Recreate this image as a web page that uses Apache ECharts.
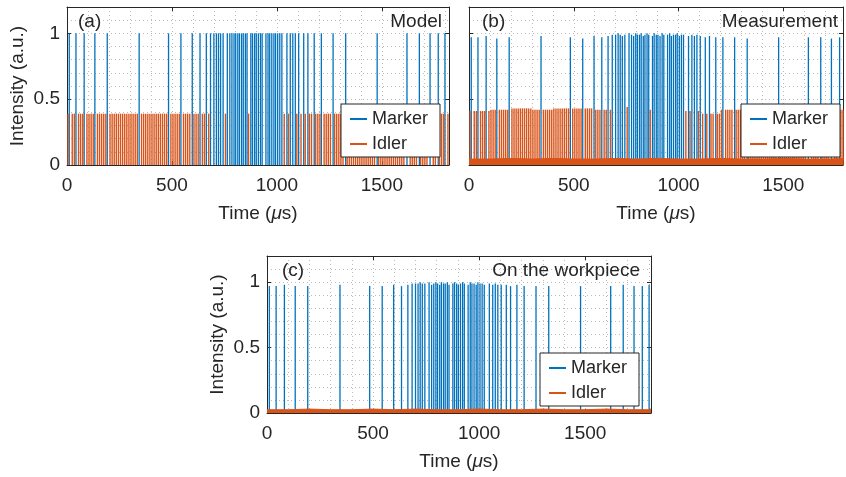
<!DOCTYPE html>
<html lang="en">
<head>
<meta charset="UTF-8">
<title>Marker / Idler pulse trains</title>
<script src="https://cdn.jsdelivr.net/npm/echarts@6/dist/echarts.min.js"></script>
<style>
    html, body { margin: 0; padding: 0; background: #fff; }
    #main { width: 846px; height: 477px; }
</style>
</head>
<body>
<div id="main"></div>
<script>
    // marker pulse times (µs), same pattern in the three panels
    var markerTimes = [11, 43, 82, 133, 192, 344, 484, 543, 597, 634, 664, 684,
        700, 712, 722, 732, 744, 764, 776, 786, 796, 804,
        814, 822, 832, 840, 850, 858, 876, 884, 894, 902, 912, 922, 930,
        948, 958, 966, 976, 986, 994, 1004, 1014, 1024,
        1048, 1064, 1076, 1088, 1104, 1128, 1148, 1178, 1212, 1268, 1328, 1478,
        1620, 1679, 1730, 1769, 1801];
    var markerHeightA = 1;
    var markerHeightB = [0.97, 0.97, 0.98, 0.96, 0.97, 0.98, 0.97, 0.96, 0.98, 0.97, 0.98, 0.99,
        0.99, 1.0, 0.99, 0.98, 0.99, 1.0, 0.99, 0.98, 1.0, 0.99,
        0.99, 1.0, 0.98, 0.99, 1.0, 0.99, 0.98, 1.0, 0.99, 0.99, 0.98, 1.0, 0.99,
        0.99, 1.0, 0.98, 0.99, 0.99, 1.0, 0.98, 0.99, 0.99,
        0.98, 0.99, 0.98, 0.99, 0.98, 0.97, 0.98, 0.97, 0.97, 0.97, 0.96, 0.97,
        0.97, 0.97, 0.96, 0.97, 0.97];
    var markerHeightC = [0.97, 0.97, 0.98, 0.97, 0.97, 0.98, 0.97, 0.97, 0.98, 0.97, 0.98, 0.99,
        0.99, 0.99, 1.0, 0.99, 0.99, 1.0, 0.98, 0.99, 1.0, 0.99,
        0.98, 1.0, 0.99, 0.99, 1.0, 0.98, 0.99, 1.0, 0.99, 0.98, 0.99, 1.0, 0.99,
        0.98, 1.0, 0.99, 0.99, 0.98, 1.0, 0.99, 0.99, 0.98,
        0.99, 0.98, 0.99, 0.98, 0.98, 0.98, 0.97, 0.98, 0.97, 0.97, 0.97, 0.97,
        0.97, 0.98, 0.97, 0.97, 0.98];

    // idler: one pulse every 10 µs, left out where a marker pulse goes
    var idlerStart = 5;
    var idlerPeriod = 10;
    var idlerLevelA = 0.39;
    // measured idler peak, read per 100 µs block
    var idlerLevelB = [0.41, 0.42, 0.43, 0.42, 0.43, 0.43, 0.42, 0.44, 0.42, 0.41,
        0.41, 0.39, 0.42, 0.42, 0.41, 0.42, 0.41, 0.42, 0.42];
    // idler noise floor, per 100 µs block
    var floorB = [0.045, 0.05, 0.045, 0.05, 0.045, 0.045, 0.05, 0.045, 0.05, 0.045,
        0.045, 0.05, 0.045, 0.045, 0.05, 0.045, 0.045, 0.05, 0.045];
    var floorC = [0.025, 0.03, 0.025, 0.025, 0.03, 0.025, 0.03, 0.025, 0.025, 0.03,
        0.025, 0.025, 0.03, 0.025, 0.025, 0.03, 0.025, 0.025, 0.03];

    var xMax = [1820, 1785, 1810];
    var xTicks = [0, 500, 1000, 1500];
    var yTicks = [0, 0.5, 1];
    var panelLabels = ['(a)', '(b)', '(c)'];
    var panelTitles = ['Model', 'Measurement', 'On the workpiece'];
    var showYLabels = [true, false, true];

    var BLUE = '#0072BD';
    var ORANGE = '#D95319';
    var INK = '#262626';
    var FONT = '"Liberation Sans", Arial, Helvetica, sans-serif';

    var grids = [
        {left: 67, top: 7, width: 382, height: 158},
        {left: 469, top: 7, width: 374, height: 158},
        {left: 267, top: 256, width: 384, height: 157}
    ];
    var legendPos = [{left: 341, top: 104}, {left: 741, top: 104}, {left: 540, top: 353}];
    var labelPos = [{left: 78, top: 12}, {left: 482, top: 12}, {left: 282, top: 261}];
    var titlePos = [{right: 404, top: 12}, {right: 8, top: 12}, {right: 206, top: 261}];

    function markerData(h) {
        return markerTimes.map(function (t, i) {
            return [t, typeof h === 'number' ? h : h[i]];
        });
    }

    function nearMarker(t) {
        for (var i = 0; i < markerTimes.length; i++) {
            if (Math.abs(markerTimes[i] - t) < 6) return true;
        }
        return false;
    }

    function idlerData(level, max) {
        var out = [];
        for (var t = idlerStart; t <= max; t += idlerPeriod) {
            if (nearMarker(t)) continue;
            var v = typeof level === 'number' ? level
                : level[Math.min(level.length - 1, Math.floor(t / 100))];
            out.push([t, v]);
        }
        return out;
    }

    function floorData(levels, max) {
        var out = levels.map(function (v, i) { return [i * 100, v]; });
        out.push([max, levels[levels.length - 1]]);
        return out;
    }

    var xAxes = [], yAxes = [], series = [], legends = [], graphics = [];
    var dotted = {show: true, lineStyle: {color: '#bcbcbc', width: 1, type: [1, 3]}};
    var boxLine = {show: true, onZero: false, lineStyle: {color: INK, width: 1}};
    var inTick = {show: true, inside: true, length: 4, lineStyle: {color: INK}};

    grids.forEach(function (g, i) {
        var base = xAxes.length;
        xAxes.push({
            type: 'value', gridIndex: i, position: 'bottom', min: 0, max: xMax[i], interval: 500,
            axisLine: boxLine, axisTick: inTick,
            axisLabel: {
                fontSize: 19, color: INK, margin: 11, fontFamily: FONT,
                formatter: function (v) { return xTicks.indexOf(v) >= 0 ? String(v) : ''; }
            },
            splitLine: {show: false},
            name: 'Time ({i|μ}s)', nameLocation: 'middle', nameGap: 39,
            nameTextStyle: {fontSize: 19, color: INK, fontFamily: FONT,
                rich: {i: {fontSize: 19, fontStyle: 'italic', color: INK, fontFamily: FONT}}}
        });
        xAxes.push({
            type: 'value', gridIndex: i, position: 'top', min: 0, max: xMax[i], interval: 500,
            axisLine: boxLine, axisTick: inTick,
            axisLabel: {show: false}, splitLine: {show: false}
        });
        xAxes.push({
            type: 'value', gridIndex: i, position: 'bottom', min: 0, max: xMax[i], interval: 100,
            axisLine: {show: false}, axisTick: {show: false}, axisLabel: {show: false},
            splitLine: dotted
        });

        yAxes.push({
            type: 'value', gridIndex: i, position: 'left', min: 0, max: 1.2, interval: 0.5,
            axisLine: boxLine, axisTick: inTick,
            axisLabel: {
                show: showYLabels[i], fontSize: 19, color: INK, margin: 7, fontFamily: FONT,
                formatter: function (v) { return yTicks.indexOf(v) >= 0 ? String(v) : ''; }
            },
            splitLine: {show: false},
            name: showYLabels[i] ? 'Intensity (a.u.)' : '', nameLocation: 'middle', nameGap: 40,
            nameTextStyle: {fontSize: 19, color: INK, fontFamily: FONT}
        });
        yAxes.push({
            type: 'value', gridIndex: i, position: 'right', min: 0, max: 1.2, interval: 0.5,
            axisLine: boxLine, axisTick: inTick,
            axisLabel: {show: false}, splitLine: {show: false}
        });
        yAxes.push({
            type: 'value', gridIndex: i, position: 'left', min: 0, max: 1.2, interval: 0.1,
            axisLine: {show: false}, axisTick: {show: false}, axisLabel: {show: false},
            splitLine: dotted
        });

        var mh = [markerHeightA, markerHeightB, markerHeightC][i];
        series.push({
            name: 'Marker', type: 'bar', xAxisIndex: base, yAxisIndex: base,
            barWidth: 1.3, barGap: '-100%', itemStyle: {color: BLUE},
            data: markerData(mh), silent: true
        });
        if (i < 2) {
            series.push({
                name: 'Idler', type: 'bar', xAxisIndex: base, yAxisIndex: base,
                barWidth: 1.4, barGap: '-100%', itemStyle: {color: ORANGE},
                data: idlerData(i === 0 ? idlerLevelA : idlerLevelB, xMax[i]), silent: true
            });
        }
        if (i > 0) {
            series.push({
                name: 'Idler', type: 'line', xAxisIndex: base, yAxisIndex: base,
                step: 'end', symbol: 'none', silent: true,
                lineStyle: {color: ORANGE, width: 1}, itemStyle: {color: ORANGE},
                areaStyle: {color: ORANGE, opacity: 1},
                data: floorData(i === 1 ? floorB : floorC, xMax[i])
            });
        }

        legends.push({
            left: legendPos[i].left, top: legendPos[i].top, orient: 'vertical',
            padding: [5, 12, 3, 9], itemGap: 5, itemWidth: 17, itemHeight: 2,
            borderColor: INK, borderWidth: 1, backgroundColor: '#fff',
            textStyle: {fontSize: 18, color: INK, lineHeight: 20, fontFamily: FONT},
            data: [
                {name: 'Marker', icon: 'rect', itemStyle: {color: BLUE}},
                {name: 'Idler', icon: 'rect', itemStyle: {color: ORANGE}}
            ],
            selectedMode: false
        });

        graphics.push({
            type: 'text', left: labelPos[i].left, top: labelPos[i].top, z: 10,
            style: {text: panelLabels[i], fontSize: 19, fill: INK, fontFamily: FONT}
        });
        graphics.push({
            type: 'text', right: titlePos[i].right, top: titlePos[i].top, z: 10,
            style: {text: panelTitles[i], fontSize: 19, fill: INK, fontFamily: FONT}
        });
    });

    var myChart = echarts.init(document.getElementById('main'));
    myChart.setOption({
        animation: false,
        backgroundColor: '#fff',
        textStyle: {fontFamily: FONT},
        grid: grids,
        xAxis: xAxes,
        yAxis: yAxes,
        legend: legends,
        graphic: graphics,
        series: series
    });
</script>
</body>
</html>
